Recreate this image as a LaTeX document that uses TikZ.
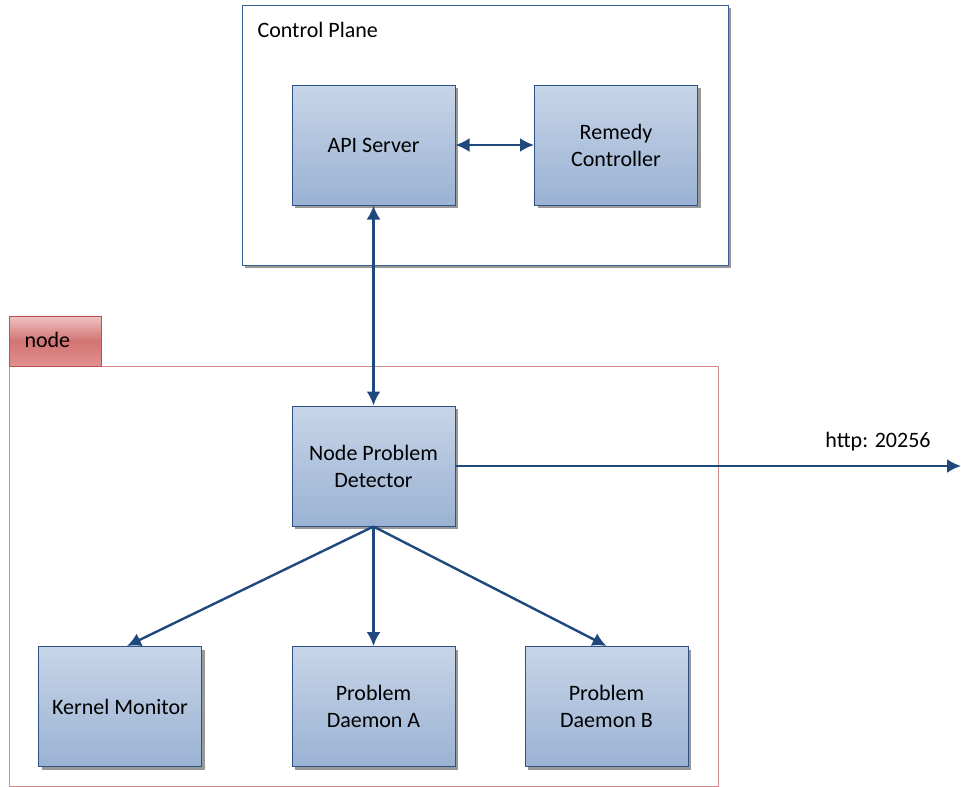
\documentclass[tikz,border=0pt]{standalone}
\usepackage{fontspec}
\setmainfont{Carlito}
\usetikzlibrary{arrows.meta,shadows}
\definecolor{boxline}{HTML}{2F5286}
\definecolor{boxtop}{HTML}{C7D5E8}
\definecolor{boxbot}{HTML}{9AB2D3}
\definecolor{arrowblue}{HTML}{1F497D}
\definecolor{frameblue}{HTML}{3A5F95}
\definecolor{framered}{HTML}{D48C8B}
\definecolor{tabline}{HTML}{C0504D}
\definecolor{tabtop}{HTML}{EDC3C2}
\definecolor{tabmid}{HTML}{D27472}
\definecolor{tabbot}{HTML}{DF9190}
\begin{document}
\begin{tikzpicture}[x=1pt,y=-1pt,
  txt/.style={font=\fontsize{22}{27}\selectfont},
  comp/.style={txt, draw=boxline, line width=1pt, top color=boxtop, bottom color=boxbot,
    minimum width=163pt, minimum height=120pt, inner sep=0pt, align=center,
    drop shadow={shadow xshift=3pt, shadow yshift=-3pt, fill=black!40, opacity=1}},
  container/.style={draw=frameblue, line width=1pt, fill=white, inner sep=0pt,
    drop shadow={shadow xshift=3pt, shadow yshift=-3pt, fill=black!40, opacity=1}},
  arr/.style={draw=arrowblue, line width=2.4pt, -{Latex[length=14pt,width=14pt]}},
  biarr/.style={draw=arrowblue, line width=2.4pt, {Latex[length=14pt,width=14pt]}-{Latex[length=14pt,width=14pt]}}
]
\useasboundingbox (0,0) rectangle (961,787);

% control plane frame
\node[container, minimum width=486pt, minimum height=260pt] (cp) at (485,135) {};
\node[txt, anchor=west] (cplabel) at (254,30) {Control Plane};

% node frame with its tab
\node[draw=framered, line width=1pt, inner sep=0pt, minimum width=709pt, minimum height=420pt] (nodeframe) at (363.5,576) {};
\node[draw=tabline, line width=1pt, inner sep=0pt, minimum width=92pt, minimum height=50pt,
  top color=tabtop, bottom color=tabbot, middle color=tabmid] (tab) at (55,341) {};
\node[txt, anchor=west] (tablabel) at (21,340) {node};

% components
\node[comp] (api) at (373.5,145) {API Server};
\node[comp] (rem) at (616,145) {Remedy\\Controller};
\node[comp] (npd) at (373.5,466) {Node Problem\\Detector};
\node[comp] (km) at (120,706.5) {Kernel Monitor};
\node[comp] (pda) at (373.5,706.5) {Problem\\Daemon A};
\node[comp] (pdb) at (606.5,706.5) {Problem\\Daemon B};

% connectors
\draw[biarr] (api.east) -- (rem.west);
\draw[biarr] (api.south) -- (npd.north);
\draw[arr] (npd.south) -- ([xshift=7pt]km.north);
\draw[arr] (npd.south) -- (pda.north);
\draw[arr] (npd.south) -- (pdb.north);
\coordinate (out) at (961,466);
\draw[arr] (npd.east) -- (out);
\node[txt] (http) at (878,442) {http: 20256};
\end{tikzpicture}
\end{document}
